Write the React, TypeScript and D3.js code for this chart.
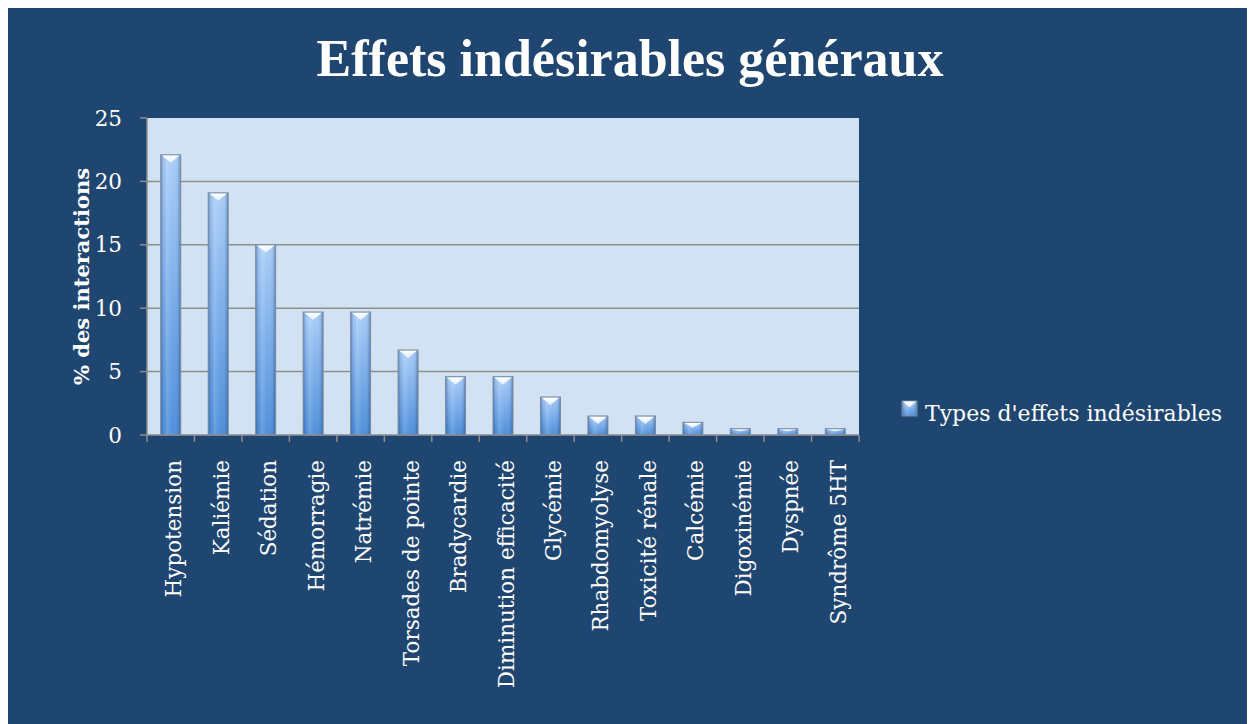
import React from "react";
import * as d3 from "d3";

const categories = [
  "Hypotension", "Kaliémie", "Sédation", "Hémorragie", "Natrémie",
  "Torsades de pointe", "Bradycardie", "Diminution efficacité", "Glycémie",
  "Rhabdomyolyse", "Toxicité rénale", "Calcémie", "Digoxinémie", "Dyspnée", "Syndrôme 5HT",
];
const values = [22.1, 19.1, 15.0, 9.7, 9.7, 6.7, 4.6, 4.6, 3.0, 1.5, 1.5, 1.0, 0.5, 0.5, 0.5];
const yTicks = [0, 5, 10, 15, 20, 25];
const title = "Effets indésirables généraux";
const yTitle = "% des interactions";
const seriesName = "Types d'effets indésirables";

const W = 1247;
const H = 716;
const BG = "#1F4670";
const PLOT_BG = "#D3E2F3";
const GRID = "#8E8E8E";
const FONT = "'DejaVu Serif', serif";

const plot = { left: 139, right: 851, top: 110, bottom: 427 };

export default function App() {
  const x = d3
    .scaleBand<string>()
    .domain(categories)
    .range([plot.left, plot.right])
    .paddingInner(0.579)
    .paddingOuter(0.579 / 2);
  const y = d3.scaleLinear().domain([0, 25]).range([plot.bottom, plot.top]);
  const step = x.step();
  const bw = x.bandwidth();

  const boundaries = d3.range(categories.length + 1).map((i) => plot.left + i * step);

  return (
    <svg width={W} height={H} style={{ display: "block" }}>
      <defs>
        <linearGradient id="barV" x1="0" x2="0" y1="0" y2="1">
          <stop offset="0%" stopColor="#ABCEF8" />
          <stop offset="45%" stopColor="#80B1EC" />
          <stop offset="100%" stopColor="#4F8FDA" />
        </linearGradient>
        <linearGradient id="barH" x1="0" x2="1" y1="0" y2="0">
          <stop offset="0%" stopColor="#1E3F70" stopOpacity={0.45} />
          <stop offset="14%" stopColor="#1E3F70" stopOpacity={0.05} />
          <stop offset="30%" stopColor="#FFFFFF" stopOpacity={0.15} />
          <stop offset="60%" stopColor="#FFFFFF" stopOpacity={0} />
          <stop offset="86%" stopColor="#1E3F70" stopOpacity={0.08} />
          <stop offset="100%" stopColor="#1E3F70" stopOpacity={0.5} />
        </linearGradient>
        <linearGradient id="cap" x1="0" x2="0" y1="0" y2="1">
          <stop offset="0%" stopColor="#FFFFFF" />
          <stop offset="100%" stopColor="#E2F0FF" />
        </linearGradient>
      </defs>
      <rect x={0} y={0} width={W} height={H} fill={BG} />
      <text
        x={622}
        y={68}
        textAnchor="middle"
        fill="#FFFFFF"
        fontFamily="'Liberation Serif', serif"
        fontWeight="bold"
        fontSize={52}
      >
        {title}
      </text>

      <rect
        x={plot.left}
        y={plot.top}
        width={plot.right - plot.left}
        height={plot.bottom - plot.top}
        fill={PLOT_BG}
      />
      {yTicks
        .filter((t) => t > 0 && t < 25)
        .map((t) => (
          <line
            key={"g" + t}
            x1={plot.left}
            x2={plot.right}
            y1={y(t)}
            y2={y(t)}
            stroke={GRID}
            strokeWidth={1.5}
          />
        ))}

      {categories.map((c, i) => {
        const x0 = x(c)!;
        const y0 = y(values[i]);
        const h = plot.bottom - y0;
        const d = Math.min(8, h * 0.42);
        return (
          <g key={c}>
            <rect x={x0} y={y0} width={bw} height={h} fill="url(#barV)" />
            <rect x={x0} y={y0} width={bw} height={h} fill="url(#barH)" />
            <polygon
              points={`${x0 + 1},${y0 + 0.5} ${x0 + bw - 1},${y0 + 0.5} ${x0 + bw / 2},${y0 + d}`}
              fill="url(#cap)"
            />
            <rect
              x={x0}
              y={y0}
              width={bw}
              height={h}
              fill="none"
              stroke="#7A8CA2"
              strokeWidth={1}
            />
          </g>
        );
      })}

      {/* axes */}
      <line x1={plot.left} x2={plot.left} y1={plot.top} y2={plot.bottom} stroke={GRID} strokeWidth={1.5} />
      <line x1={plot.left} x2={plot.right} y1={plot.bottom} y2={plot.bottom} stroke={GRID} strokeWidth={1.5} />
      {yTicks.map((t) => (
        <g key={"yt" + t}>
          <line x1={plot.left - 7} x2={plot.left} y1={y(t)} y2={y(t)} stroke={GRID} strokeWidth={1.5} />
          <text
            x={114}
            y={y(t)}
            dy="0.35em"
            textAnchor="end"
            fill="#FFFFFF"
            fontFamily={FONT}
            fontSize={21.5}
          >
            {t}
          </text>
        </g>
      ))}
      {boundaries.map((bx, i) => (
        <line key={"xt" + i} x1={bx} x2={bx} y1={plot.bottom} y2={plot.bottom + 7} stroke={GRID} strokeWidth={1.5} />
      ))}
      {categories.map((c) => {
        const cx = x(c)! + bw / 2 + 3;
        return (
          <text
            key={"xl" + c}
            transform={`translate(${cx},452) rotate(-90)`}
            dy="0.35em"
            textAnchor="end"
            fill="#FFFFFF"
            fontFamily={FONT}
            fontSize={21.5}
          >
            {c}
          </text>
        );
      })}

      <text
        transform={`translate(74,${(plot.top + plot.bottom) / 2}) rotate(-90)`}
        dy="0.35em"
        textAnchor="middle"
        fill="#FFFFFF"
        fontFamily={FONT}
        fontWeight="bold"
        fontSize={21}
      >
        {yTitle}
      </text>

      {/* legend */}
      <rect x={894} y={393} width={15} height={15} fill="url(#barV)" />
      <rect x={894} y={393} width={15} height={15} fill="url(#barH)" stroke="#7A8CA2" strokeWidth={1} />
      <polygon points="895,393.5 908,393.5 901.5,399.5" fill="url(#cap)" />
      <text x={917} y={413} fill="#FFFFFF" fontFamily={FONT} fontSize={22}>
        {seriesName}
      </text>
    </svg>
  );
}
